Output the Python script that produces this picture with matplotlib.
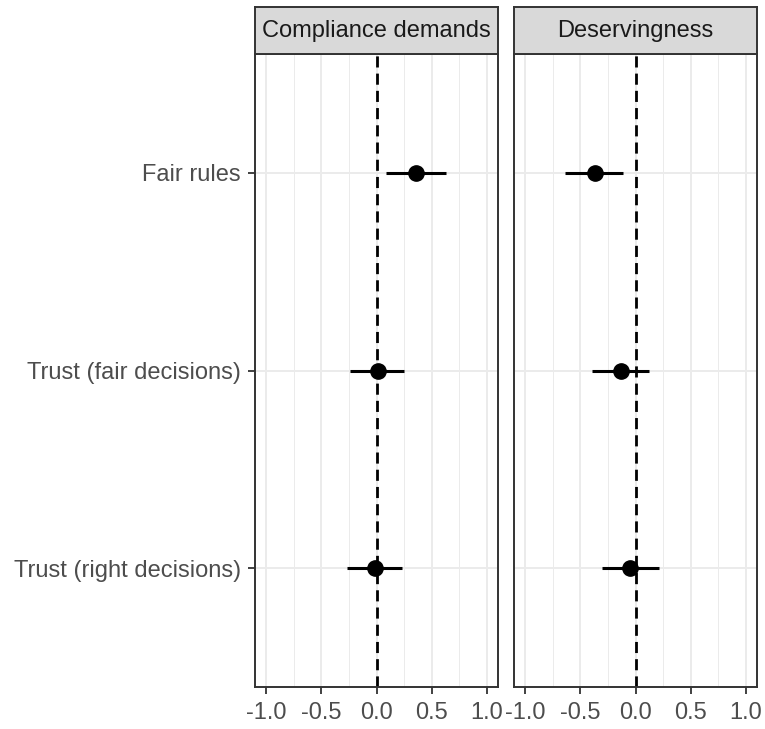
import matplotlib.pyplot as plt
from matplotlib.ticker import MultipleLocator, FixedLocator

plt.rcParams['font.family'] = ['Liberation Sans', 'DejaVu Sans']

# data
predictors = ["Fair rules", "Trust (fair decisions)", "Trust (right decisions)"]
panels = ["Compliance demands", "Deservingness"]
est = {
    "Compliance demands": [0.36, 0.01, -0.01],
    "Deservingness": [-0.37, -0.13, -0.05],
}
lo = {
    "Compliance demands": [0.09, -0.24, -0.27],
    "Deservingness": [-0.64, -0.39, -0.30],
}
hi = {
    "Compliance demands": [0.63, 0.25, 0.23],
    "Deservingness": [-0.11, 0.12, 0.21],
}
xticks = [-1.0, -0.5, 0.0, 0.5, 1.0]
xticklabels = ["-1.0", "-0.5", "0.0", "0.5", "1.0"]

W, H = 765, 729
fig = plt.figure(figsize=(W / 100, H / 100), dpi=100)

panel_x = [255, 514]
panel_w = 243
top, bottom = 54, 687
strip_top = 7
dark = "#333333"
fs = 17

ypos = [1, 2, 3]

for k, name in enumerate(panels):
    ax = fig.add_axes([panel_x[k] / W, 1 - bottom / H, panel_w / W, (bottom - top) / H])
    ax.set_xlim(-1.1, 1.1)
    ax.set_ylim(3.6, 0.4)

    ax.xaxis.set_major_locator(FixedLocator(xticks))
    ax.xaxis.set_minor_locator(MultipleLocator(0.25))
    ax.set_xticks(xticks)
    ax.set_xticklabels(xticklabels)
    ax.set_yticks(ypos)

    ax.grid(True, which="major", color="#EBEBEB", lw=1.4, zorder=0)
    ax.grid(True, which="minor", axis="x", color="#EBEBEB", lw=0.7, zorder=0)
    ax.set_axisbelow(True)

    ax.tick_params(axis="both", which="major", length=5, width=1.3, color=dark,
                   labelsize=fs, labelcolor="#4D4D4D")
    ax.tick_params(axis="x", which="major", pad=6)
    ax.tick_params(axis="y", which="major", pad=5)
    ax.tick_params(axis="x", which="minor", length=0)
    if k == 0:
        ax.set_yticklabels(predictors)
    else:
        ax.tick_params(axis="y", left=False, labelleft=False)
    for s in ax.spines.values():
        s.set_color(dark)
        s.set_linewidth(1.4)

    ax.axvline(0, color="black", lw=2.0, dashes=(4, 2.2), zorder=2)
    ax.hlines(ypos, lo[name], hi[name], color="black", lw=2.2, zorder=3)
    ax.plot(est[name], ypos, "o", color="black", ms=11, zorder=4)

    # facet strip
    sax = fig.add_axes([panel_x[k] / W, 1 - top / H, panel_w / W, (top - strip_top) / H])
    sax.set_facecolor("#D9D9D9")
    sax.set_xticks([])
    sax.set_yticks([])
    for s in sax.spines.values():
        s.set_color(dark)
        s.set_linewidth(1.4)
    sax.text(0.5, 0.5, name, ha="center", va="center", fontsize=fs,
             color="#1A1A1A", transform=sax.transAxes)

fig.savefig("out.png", dpi=100)
